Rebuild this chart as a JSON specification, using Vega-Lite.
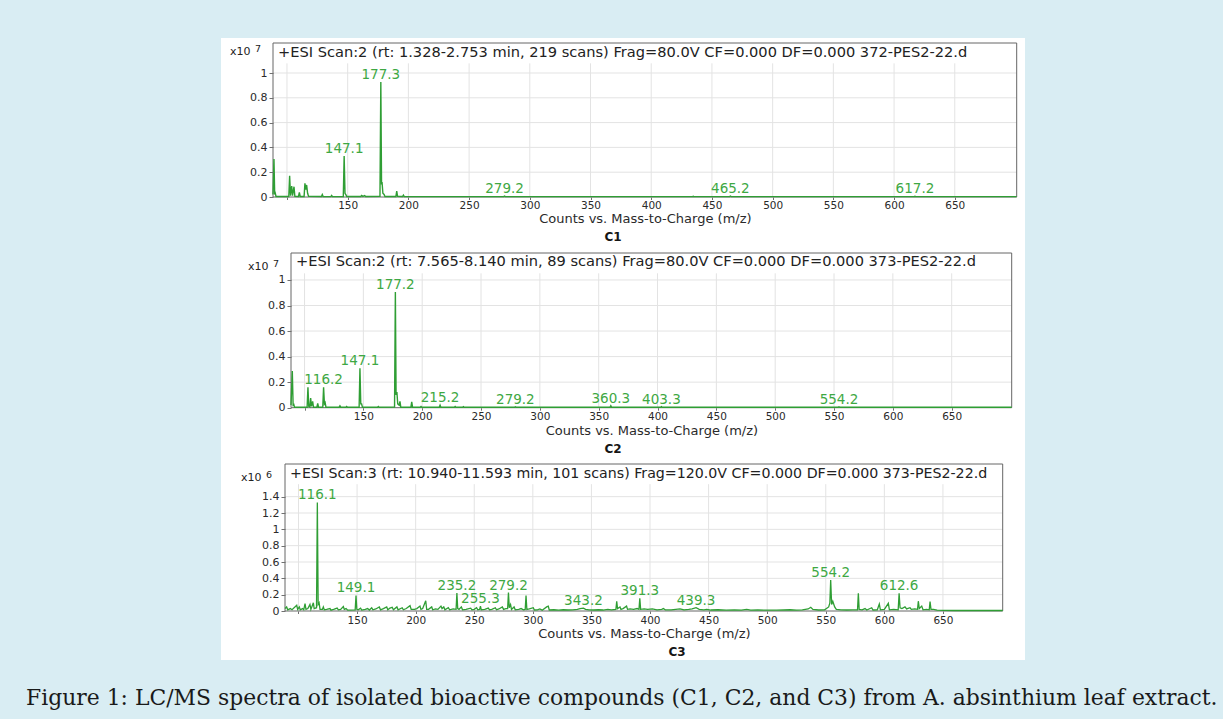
{
  "$schema": "https://vega.github.io/schema/vega-lite/v6.json",
  "width": 804,
  "height": 622,
  "autosize": {"type": "none"},
  "padding": {"left": 221, "top": 38, "right": 198, "bottom": 59},
  "background": "#d9edf3",
  "view": {"fill": "#ffffff", "stroke": null},
  "config": {"font": "DejaVu Sans", "axis": {"zindex": 1}},
  "title": {
    "text": "Figure 1: LC/MS spectra of isolated bioactive compounds (C1, C2, and C3) from A. absinthium leaf extract.",
    "orient": "bottom", "anchor": "start", "frame": "group", "offset": 45, "dx": -195,
    "font": "DejaVu Serif", "fontSize": 21.9, "fontWeight": "normal", "color": "#1a1a1a", "baseline": "alphabetic"
  },
  "datasets": {
    "gx": [{"g":100},{"g":150},{"g":200},{"g":250},{"g":300},{"g":350},{"g":400},{"g":450},{"g":500},{"g":550},{"g":600},{"g":650}],
    "gy12": [{"g":0.2},{"g":0.4},{"g":0.6},{"g":0.8},{"g":1}],
    "gy3": [{"g":0.2},{"g":0.4},{"g":0.6},{"g":0.8},{"g":1},{"g":1.2},{"g":1.4}],
    "s1": [
      {"m":88.5,"i":0.02},{"m":89.3,"i":0.306},{"m":89.9,"i":0.02},{"m":90.4,"i":0.03},{"m":91.0,"i":0.004},
      {"m":101.5,"i":0.004},{"m":102.2,"i":0.172},{"m":102.9,"i":0.01},{"m":103.9,"i":0.089},{"m":104.6,"i":0.01},{"m":105.8,"i":0.083},{"m":106.5,"i":0.005},
      {"m":109.5,"i":0.004},{"m":110.2,"i":0.038},{"m":110.9,"i":0.004},
      {"m":114.1,"i":0.004},{"m":114.8,"i":0.11},{"m":115.5,"i":0.06},{"m":116.2,"i":0.097},{"m":117.0,"i":0.03},{"m":117.8,"i":0.005},
      {"m":128.4,"i":0.004},{"m":129.1,"i":0.02},{"m":129.8,"i":0.004},
      {"m":136.1,"i":0.003},{"m":136.8,"i":0.012},{"m":137.5,"i":0.003},
      {"m":146.4,"i":0.004},{"m":147.1,"i":0.33},{"m":147.8,"i":0.03},{"m":148.5,"i":0.02},{"m":149.2,"i":0.004},
      {"m":160.8,"i":0.004},{"m":161.5,"i":0.012},{"m":162.5,"i":0.005},{"m":164.0,"i":0.012},{"m":164.8,"i":0.004},
      {"m":176.6,"i":0.005},{"m":177.3,"i":0.927},{"m":177.9,"i":0.1},{"m":178.3,"i":0.12},{"m":179.0,"i":0.03},{"m":180.0,"i":0.02},{"m":180.7,"i":0.004},
      {"m":189.7,"i":0.004},{"m":190.4,"i":0.048},{"m":191.1,"i":0.005},
      {"m":195.2,"i":0.004},{"m":195.9,"i":0.015},{"m":196.6,"i":0.003},
      {"m":278.5,"i":0.003},{"m":279.2,"i":0.007},{"m":279.9,"i":0.003},
      {"m":434.0,"i":0.003},{"m":434.6,"i":0.006},{"m":435.2,"i":0.003},
      {"m":464.5,"i":0.003},{"m":465.2,"i":0.007},{"m":465.9,"i":0.003},
      {"m":616.5,"i":0.003},{"m":617.2,"i":0.006},{"m":617.9,"i":0.003},
      {"m":701,"i":0.003}
    ],
    "l1": [
      {"m":177.3,"i":0.927,"t":"177.3"},{"m":147.1,"i":0.33,"t":"147.1"},{"m":279.2,"i":0.007,"t":"279.2"},
      {"m":465.2,"i":0.007,"t":"465.2"},{"m":617.2,"i":0.006,"t":"617.2"}
    ],
    "s2": [
      {"m":88.5,"i":0.02},{"m":89.6,"i":0.287},{"m":90.3,"i":0.02},{"m":90.9,"i":0.025},{"m":91.5,"i":0.004},
      {"m":102.2,"i":0.004},{"m":102.9,"i":0.16},{"m":103.6,"i":0.01},{"m":104.5,"i":0.005},{"m":105.2,"i":0.076},{"m":105.9,"i":0.01},{"m":106.9,"i":0.05},{"m":107.6,"i":0.004},
      {"m":110.5,"i":0.004},{"m":111.2,"i":0.034},{"m":111.9,"i":0.004},
      {"m":115.5,"i":0.004},{"m":116.2,"i":0.16},{"m":116.9,"i":0.03},{"m":117.5,"i":0.04},{"m":118.2,"i":0.004},
      {"m":129.4,"i":0.004},{"m":130.1,"i":0.015},{"m":130.8,"i":0.004},
      {"m":135.1,"i":0.004},{"m":135.8,"i":0.01},{"m":136.5,"i":0.004},
      {"m":146.4,"i":0.004},{"m":147.1,"i":0.308},{"m":147.8,"i":0.03},{"m":148.5,"i":0.03},{"m":149.2,"i":0.004},
      {"m":162.0,"i":0.004},{"m":162.7,"i":0.01},{"m":163.4,"i":0.004},
      {"m":176.5,"i":0.005},{"m":177.2,"i":0.906},{"m":177.8,"i":0.1},{"m":178.5,"i":0.123},{"m":179.2,"i":0.03},{"m":180.4,"i":0.02},{"m":181.1,"i":0.05},{"m":181.8,"i":0.004},
      {"m":190.4,"i":0.004},{"m":191.1,"i":0.045},{"m":191.8,"i":0.004},
      {"m":198.3,"i":0.004},{"m":199.0,"i":0.01},{"m":199.7,"i":0.004},
      {"m":214.5,"i":0.004},{"m":215.2,"i":0.02},{"m":215.9,"i":0.004},
      {"m":227.3,"i":0.004},{"m":228.0,"i":0.01},{"m":228.7,"i":0.004},
      {"m":234.3,"i":0.003},{"m":235.0,"i":0.008},{"m":235.7,"i":0.003},
      {"m":278.5,"i":0.003},{"m":279.2,"i":0.007},{"m":279.9,"i":0.003},
      {"m":359.6,"i":0.003},{"m":360.3,"i":0.015},{"m":361.0,"i":0.003},
      {"m":402.6,"i":0.003},{"m":403.3,"i":0.008},{"m":404.0,"i":0.003},
      {"m":553.5,"i":0.003},{"m":554.2,"i":0.007},{"m":554.9,"i":0.003},
      {"m":701,"i":0.003}
    ],
    "l2": [
      {"m":177.2,"i":0.906,"t":"177.2"},{"m":147.1,"i":0.308,"t":"147.1"},{"m":116.2,"i":0.16,"t":"116.2"},
      {"m":215.2,"i":0.02,"t":"215.2"},{"m":279.2,"i":0.007,"t":"279.2"},{"m":360.3,"i":0.015,"t":"360.3"},
      {"m":403.3,"i":0.008,"t":"403.3"},{"m":554.2,"i":0.007,"t":"554.2"}
    ],
    "s3": [
      {"m":88.5,"i":0.03},{"m":89.9,"i":0.05},{"m":90.8,"i":0.015},{"m":93,"i":0.03},{"m":94.5,"i":0.015},
      {"m":98.5,"i":0.07},{"m":99.3,"i":0.02},{"m":100.7,"i":0.05},{"m":101.5,"i":0.015},{"m":103.5,"i":0.03},{"m":104.5,"i":0.015},
      {"m":105.6,"i":0.09},{"m":106.4,"i":0.02},{"m":108,"i":0.03},{"m":109.8,"i":0.08},{"m":110.6,"i":0.02},
      {"m":112.7,"i":0.1},{"m":113.4,"i":0.03},{"m":115.4,"i":0.04},{"m":116.1,"i":1.33},{"m":116.8,"i":0.08},{"m":117.6,"i":0.1},{"m":118.4,"i":0.02},
      {"m":120.4,"i":0.02},{"m":121.2,"i":0.05},{"m":122,"i":0.015},{"m":124,"i":0.02},{"m":126.9,"i":0.03},{"m":127.7,"i":0.01},
      {"m":130,"i":0.02},{"m":133,"i":0.035},{"m":134,"i":0.015},{"m":136,"i":0.02},{"m":138.3,"i":0.055},{"m":139.1,"i":0.02},
      {"m":140.6,"i":0.03},{"m":142,"i":0.01},{"m":148.4,"i":0.015},{"m":149.1,"i":0.19},{"m":149.8,"i":0.02},{"m":151,"i":0.015},
      {"m":153,"i":0.035},{"m":154,"i":0.012},{"m":157,"i":0.02},{"m":159,"i":0.03},{"m":160.5,"i":0.012},{"m":162.5,"i":0.04},
      {"m":163.5,"i":0.015},{"m":166,"i":0.025},{"m":169,"i":0.05},{"m":170,"i":0.015},{"m":172.5,"i":0.03},{"m":175.3,"i":0.05},
      {"m":176.2,"i":0.015},{"m":178,"i":0.035},{"m":180,"i":0.045},{"m":181,"i":0.015},{"m":184,"i":0.05},{"m":185,"i":0.015},
      {"m":188.5,"i":0.04},{"m":189.5,"i":0.015},{"m":192,"i":0.03},{"m":195.2,"i":0.065},{"m":196.2,"i":0.02},{"m":199,"i":0.02},
      {"m":201,"i":0.03},{"m":203.7,"i":0.06},{"m":204.5,"i":0.02},{"m":206,"i":0.03},{"m":208.6,"i":0.125},{"m":209.4,"i":0.02},
      {"m":211,"i":0.02},{"m":213.7,"i":0.05},{"m":214.5,"i":0.015},{"m":217,"i":0.025},{"m":219,"i":0.02},{"m":221.6,"i":0.06},
      {"m":222.5,"i":0.03},{"m":224,"i":0.05},{"m":225,"i":0.015},{"m":227.9,"i":0.04},{"m":229,"i":0.015},{"m":232,"i":0.025},
      {"m":234.5,"i":0.02},{"m":235.2,"i":0.22},{"m":235.9,"i":0.03},{"m":237,"i":0.02},{"m":239,"i":0.05},{"m":240,"i":0.015},
      {"m":243,"i":0.02},{"m":247,"i":0.035},{"m":248,"i":0.015},{"m":250,"i":0.02},{"m":252,"i":0.04},{"m":253,"i":0.015},
      {"m":254.6,"i":0.02},{"m":255.3,"i":0.06},{"m":256,"i":0.015},{"m":259,"i":0.02},{"m":262,"i":0.035},{"m":263,"i":0.015},
      {"m":265,"i":0.02},{"m":268,"i":0.04},{"m":269,"i":0.015},{"m":271,"i":0.025},{"m":274,"i":0.05},{"m":275,"i":0.02},
      {"m":277,"i":0.03},{"m":278.5,"i":0.03},{"m":279.2,"i":0.225},{"m":279.9,"i":0.04},{"m":281,"i":0.08},{"m":281.8,"i":0.02},
      {"m":284,"i":0.05},{"m":285,"i":0.015},{"m":288,"i":0.02},{"m":290,"i":0.03},{"m":292,"i":0.015},{"m":293.5,"i":0.02},
      {"m":294.2,"i":0.19},{"m":294.9,"i":0.02},{"m":297,"i":0.025},{"m":300.4,"i":0.04},{"m":301.3,"i":0.012},{"m":304,"i":0.015},
      {"m":306,"i":0.025},{"m":308,"i":0.01},{"m":311.8,"i":0.05},{"m":313.2,"i":0.06},{"m":314,"i":0.012},{"m":318,"i":0.015},
      {"m":322,"i":0.01},{"m":326,"i":0.015},{"m":330,"i":0.012},{"m":334,"i":0.015},{"m":338,"i":0.02},{"m":340.3,"i":0.03},
      {"m":343.2,"i":0.035},{"m":345,"i":0.02},{"m":348,"i":0.015},{"m":352,"i":0.012},{"m":356,"i":0.015},{"m":360,"i":0.012},
      {"m":364,"i":0.02},{"m":367,"i":0.015},{"m":370.9,"i":0.02},{"m":371.6,"i":0.12},{"m":372.3,"i":0.03},{"m":374.4,"i":0.05},
      {"m":375.2,"i":0.02},{"m":377,"i":0.03},{"m":380,"i":0.06},{"m":380.8,"i":0.02},{"m":383,"i":0.025},{"m":386,"i":0.02},
      {"m":389,"i":0.03},{"m":390.6,"i":0.02},{"m":391.3,"i":0.155},{"m":392,"i":0.02},{"m":395,"i":0.025},{"m":398,"i":0.02},
      {"m":402,"i":0.025},{"m":406,"i":0.015},{"m":410,"i":0.02},{"m":411.4,"i":0.03},{"m":413,"i":0.015},{"m":418,"i":0.015},
      {"m":422,"i":0.02},{"m":425.6,"i":0.025},{"m":429,"i":0.015},{"m":433,"i":0.02},{"m":436,"i":0.025},{"m":439.3,"i":0.04},
      {"m":442,"i":0.02},{"m":446,"i":0.015},{"m":448.4,"i":0.02},{"m":452,"i":0.012},{"m":458,"i":0.015},{"m":465,"i":0.01},
      {"m":472,"i":0.012},{"m":478,"i":0.01},{"m":482.5,"i":0.02},{"m":486,"i":0.01},{"m":492,"i":0.012},{"m":500,"i":0.01},
      {"m":508,"i":0.01},{"m":514,"i":0.012},{"m":519.5,"i":0.015},{"m":525,"i":0.01},{"m":530,"i":0.015},{"m":535,"i":0.025},
      {"m":537.2,"i":0.045},{"m":539,"i":0.02},{"m":544,"i":0.012},{"m":549,"i":0.015},{"m":552.5,"i":0.05},{"m":553.5,"i":0.1},
      {"m":554.2,"i":0.38},{"m":555,"i":0.08},{"m":556,"i":0.12},{"m":557.6,"i":0.05},{"m":559,"i":0.02},{"m":563,"i":0.015},
      {"m":568,"i":0.012},{"m":573,"i":0.015},{"m":577.1,"i":0.015},{"m":577.8,"i":0.216},{"m":578.5,"i":0.02},{"m":581,"i":0.015},
      {"m":583.5,"i":0.03},{"m":585,"i":0.012},{"m":589.2,"i":0.04},{"m":590.3,"i":0.012},{"m":594,"i":0.015},{"m":595.7,"i":0.086},
      {"m":596.6,"i":0.015},{"m":600,"i":0.02},{"m":603.4,"i":0.094},{"m":604.3,"i":0.015},{"m":608,"i":0.02},{"m":611.8,"i":0.015},
      {"m":612.6,"i":0.216},{"m":613.4,"i":0.04},{"m":615,"i":0.03},{"m":617.6,"i":0.05},{"m":619,"i":0.025},{"m":621.9,"i":0.04},
      {"m":623,"i":0.02},{"m":626,"i":0.025},{"m":628.3,"i":0.02},{"m":629,"i":0.12},{"m":629.8,"i":0.03},{"m":631.9,"i":0.06},
      {"m":633,"i":0.015},{"m":636,"i":0.02},{"m":638.3,"i":0.015},{"m":639,"i":0.114},{"m":639.8,"i":0.02},{"m":642,"i":0.02},
      {"m":645,"i":0.01},{"m":650,"i":0.008},{"m":660,"i":0.006},{"m":680,"i":0.006},{"m":701,"i":0.006}
    ],
    "l3": [
      {"m":116.1,"i":1.33,"t":"116.1"},{"m":149.1,"i":0.19,"t":"149.1"},{"m":235.2,"i":0.22,"t":"235.2"},
      {"m":255.3,"i":0.06,"t":"255.3"},{"m":279.2,"i":0.225,"t":"279.2"},{"m":343.2,"i":0.035,"t":"343.2"},
      {"m":391.3,"i":0.155,"t":"391.3"},{"m":439.3,"i":0.04,"t":"439.3"},{"m":554.2,"i":0.38,"t":"554.2"},
      {"m":612.6,"i":0.216,"t":"612.6"}
    ]
  },
  "resolve": {"scale": {"x": "independent", "y": "independent"}, "axis": {"x": "independent", "y": "independent"}},
  "layer": [
    {
      "layer": [
        {"data": {"name": "gx"}, "mark": {"type": "rule", "color": "#e3e3e3", "strokeWidth": 1},
         "encoding": {"x": {"field": "g", "type": "quantitative"}, "y": {"datum": 0}, "y2": {"datum": 1.078}}},
        {"data": {"name": "gy12"}, "mark": {"type": "rule", "color": "#e3e3e3", "strokeWidth": 1},
         "encoding": {"y": {"field": "g", "type": "quantitative"}, "x": {"datum": 88.5}, "x2": {"datum": 701}}},
        {"data": {"values": [{}]}, "mark": {"type": "rect", "filled": false, "color": "#666666", "strokeWidth": 1},
         "encoding": {"x": {"datum": 88.5}, "x2": {"datum": 701}, "y": {"datum": 0}, "y2": {"datum": 1.242}}},
        {"data": {"name": "s1"}, "mark": {"type": "line", "color": "#2f9e34", "strokeWidth": 1.4},
         "encoding": {
           "x": {"field": "m", "type": "quantitative",
                 "scale": {"domain": [88.5, 701], "range": [52, 795.7], "nice": false, "zero": false},
                 "axis": {"orient": "bottom", "offset": -463, "zindex": 1, "values": [100,150,200,250,300,350,400,450,500,550,600,650], "format": "d",
                          "labelExpr": "datum.value == 100 ? '' : datum.label", "grid": false, "domain": false,
                          "tickSize": 2.5, "tickColor": "#707070", "labelPadding": 0.5, "labelFont": "DejaVu Sans", "labelFontSize": 10.5,
                          "labelColor": "#2a2a2a", "labelFlush": false, "labelOverlap": false,
                          "title": "Counts vs. Mass-to-Charge (m/z)", "titleFont": "DejaVu Sans", "titleFontSize": 13,
                          "titleFontWeight": "normal", "titleColor": "#2a2a2a", "titleBaseline": "alphabetic", "titleY": 25.5}},
           "y": {"field": "i", "type": "quantitative",
                 "scale": {"domain": [0, 1.242], "range": [159, 5], "nice": false, "zero": false},
                 "axis": {"orient": "left", "offset": -52, "zindex": 1, "values": [0,0.2,0.4,0.6,0.8,1], "format": "~g", "grid": false, "domain": false,
                          "tickSize": 4, "tickColor": "#707070", "labelPadding": 2, "labelFont": "DejaVu Sans", "labelFontSize": 11,
                          "labelColor": "#2a2a2a", "labelFlush": false, "labelOverlap": false, "title": null}}
         }},
        {"data": {"name": "l1"}, "mark": {"type": "text", "color": "#3ea843", "font": "DejaVu Sans", "fontSize": 13.5, "baseline": "alphabetic", "dy": -3},
         "encoding": {"x": {"field": "m", "type": "quantitative"}, "y": {"field": "i", "type": "quantitative"}, "text": {"field": "t"}}},
        {"data": {"values": [{}]}, "mark": {"type": "text", "align": "left", "baseline": "middle", "dx": 5, "dy": 10, "font": "DejaVu Sans", "fontSize": 14.6, "color": "#222222"},
         "encoding": {"x": {"datum": 88.5}, "y": {"datum": 1.242},
                      "text": {"value": "+ESI Scan:2 (rt: 1.328-2.753 min, 219 scans) Frag=80.0V CF=0.000 DF=0.000 372-PES2-22.d"}}},
        {"data": {"values": [{}]}, "mark": {"type": "text", "align": "left", "baseline": "middle", "dx": -43, "dy": 9, "font": "DejaVu Sans", "fontSize": 11, "color": "#222222"},
         "encoding": {"x": {"datum": 88.5}, "y": {"datum": 1.242}, "text": {"value": "x10"}}},
        {"data": {"values": [{}]}, "mark": {"type": "text", "align": "left", "baseline": "middle", "dx": -18, "dy": 6, "font": "DejaVu Sans", "fontSize": 9.5, "color": "#222222"},
         "encoding": {"x": {"datum": 88.5}, "y": {"datum": 1.242}, "text": {"value": "7"}}},
        {"data": {"values": [{}]}, "mark": {"type": "text", "align": "center", "baseline": "middle", "font": "DejaVu Sans", "fontSize": 12, "fontWeight": "bold", "color": "#151515"},
         "encoding": {"x": {"datum": 368.5}, "y": {"datum": -0.32}, "text": {"value": "C1"}}}
      ]
    },
    {
      "layer": [
        {"data": {"name": "gx"}, "mark": {"type": "rule", "color": "#e3e3e3", "strokeWidth": 1},
         "encoding": {"x": {"field": "g", "type": "quantitative"}, "y": {"datum": 0}, "y2": {"datum": 1.052}}},
        {"data": {"name": "gy12"}, "mark": {"type": "rule", "color": "#e3e3e3", "strokeWidth": 1},
         "encoding": {"y": {"field": "g", "type": "quantitative"}, "x": {"datum": 88.5}, "x2": {"datum": 701}}},
        {"data": {"values": [{}]}, "mark": {"type": "rect", "filled": false, "color": "#666666", "strokeWidth": 1},
         "encoding": {"x": {"datum": 88.5}, "x2": {"datum": 701}, "y": {"datum": 0}, "y2": {"datum": 1.211}}},
        {"data": {"name": "s2"}, "mark": {"type": "line", "color": "#2f9e34", "strokeWidth": 1.4},
         "encoding": {
           "x": {"field": "m", "type": "quantitative",
                 "scale": {"domain": [88.5, 701], "range": [70, 790.7], "nice": false, "zero": false},
                 "axis": {"orient": "bottom", "offset": -252.3, "zindex": 1, "values": [100,150,200,250,300,350,400,450,500,550,600,650], "format": "d",
                          "labelExpr": "datum.value == 100 ? '' : datum.label", "grid": false, "domain": false,
                          "tickSize": 2.5, "tickColor": "#707070", "labelPadding": 1.5, "labelFont": "DejaVu Sans", "labelFontSize": 10.5,
                          "labelColor": "#2a2a2a", "labelFlush": false, "labelOverlap": false,
                          "title": "Counts vs. Mass-to-Charge (m/z)", "titleFont": "DejaVu Sans", "titleFontSize": 13,
                          "titleFontWeight": "normal", "titleColor": "#2a2a2a", "titleBaseline": "alphabetic", "titleY": 26.5}},
           "y": {"field": "i", "type": "quantitative",
                 "scale": {"domain": [0, 1.211], "range": [369.7, 215], "nice": false, "zero": false},
                 "axis": {"orient": "left", "offset": -70, "zindex": 1, "values": [0,0.2,0.4,0.6,0.8,1], "format": "~g", "grid": false, "domain": false,
                          "tickSize": 4, "tickColor": "#707070", "labelPadding": 2, "labelFont": "DejaVu Sans", "labelFontSize": 11,
                          "labelColor": "#2a2a2a", "labelFlush": false, "labelOverlap": false, "title": null}}
         }},
        {"data": {"name": "l2"}, "mark": {"type": "text", "color": "#3ea843", "font": "DejaVu Sans", "fontSize": 13.5, "baseline": "alphabetic", "dy": -3},
         "encoding": {"x": {"field": "m", "type": "quantitative"}, "y": {"field": "i", "type": "quantitative"}, "text": {"field": "t"}}},
        {"data": {"values": [{}]}, "mark": {"type": "text", "align": "left", "baseline": "middle", "dx": 5, "dy": 9.3, "font": "DejaVu Sans", "fontSize": 14.6, "color": "#222222"},
         "encoding": {"x": {"datum": 88.5}, "y": {"datum": 1.211},
                      "text": {"value": "+ESI Scan:2 (rt: 7.565-8.140 min, 89 scans) Frag=80.0V CF=0.000 DF=0.000 373-PES2-22.d"}}},
        {"data": {"values": [{}]}, "mark": {"type": "text", "align": "left", "baseline": "middle", "dx": -43, "dy": 14, "font": "DejaVu Sans", "fontSize": 11, "color": "#222222"},
         "encoding": {"x": {"datum": 88.5}, "y": {"datum": 1.211}, "text": {"value": "x10"}}},
        {"data": {"values": [{}]}, "mark": {"type": "text", "align": "left", "baseline": "middle", "dx": -18, "dy": 11, "font": "DejaVu Sans", "fontSize": 9.5, "color": "#222222"},
         "encoding": {"x": {"datum": 88.5}, "y": {"datum": 1.211}, "text": {"value": "7"}}},
        {"data": {"values": [{}]}, "mark": {"type": "text", "align": "center", "baseline": "middle", "font": "DejaVu Sans", "fontSize": 12, "fontWeight": "bold", "color": "#151515"},
         "encoding": {"x": {"datum": 362.2}, "y": {"datum": -0.323}, "text": {"value": "C2"}}}
      ]
    },
    {
      "layer": [
        {"data": {"name": "gx"}, "mark": {"type": "rule", "color": "#e3e3e3", "strokeWidth": 1},
         "encoding": {"x": {"field": "g", "type": "quantitative"}, "y": {"datum": 0}, "y2": {"datum": 1.553}}},
        {"data": {"name": "gy3"}, "mark": {"type": "rule", "color": "#e3e3e3", "strokeWidth": 1},
         "encoding": {"y": {"field": "g", "type": "quantitative"}, "x": {"datum": 88.5}, "x2": {"datum": 701}}},
        {"data": {"values": [{}]}, "mark": {"type": "rect", "filled": false, "color": "#666666", "strokeWidth": 1},
         "encoding": {"x": {"datum": 88.5}, "x2": {"datum": 701}, "y": {"datum": 0}, "y2": {"datum": 1.8}}},
        {"data": {"name": "s3"}, "mark": {"type": "line", "color": "#2f9e34", "strokeWidth": 1.3},
         "encoding": {
           "x": {"field": "m", "type": "quantitative",
                 "scale": {"domain": [88.5, 701], "range": [64, 781.7], "nice": false, "zero": false},
                 "axis": {"orient": "bottom", "offset": -49, "zindex": 1, "values": [100,150,200,250,300,350,400,450,500,550,600,650], "format": "d",
                          "labelExpr": "datum.value == 100 ? '' : datum.label", "grid": false, "domain": false,
                          "tickSize": 2.5, "tickColor": "#707070", "labelPadding": 1.5, "labelFont": "DejaVu Sans", "labelFontSize": 10.5,
                          "labelColor": "#2a2a2a", "labelFlush": false, "labelOverlap": false,
                          "title": "Counts vs. Mass-to-Charge (m/z)", "titleFont": "DejaVu Sans", "titleFontSize": 13,
                          "titleFontWeight": "normal", "titleColor": "#2a2a2a", "titleBaseline": "alphabetic", "titleY": 26.5}},
           "y": {"field": "i", "type": "quantitative",
                 "scale": {"domain": [0, 1.8], "range": [573, 426], "nice": false, "zero": false},
                 "axis": {"orient": "left", "offset": -64, "zindex": 1, "values": [0,0.2,0.4,0.6,0.8,1,1.2,1.4], "format": "~g", "grid": false, "domain": false,
                          "tickSize": 4, "tickColor": "#707070", "labelPadding": 2, "labelFont": "DejaVu Sans", "labelFontSize": 11,
                          "labelColor": "#2a2a2a", "labelFlush": false, "labelOverlap": false, "title": null}}
         }},
        {"data": {"name": "l3"}, "mark": {"type": "text", "color": "#3ea843", "font": "DejaVu Sans", "fontSize": 13.5, "baseline": "alphabetic", "dy": -3},
         "encoding": {"x": {"field": "m", "type": "quantitative"}, "y": {"field": "i", "type": "quantitative"}, "text": {"field": "t"}}},
        {"data": {"values": [{}]}, "mark": {"type": "text", "align": "left", "baseline": "middle", "dx": 5, "dy": 10, "font": "DejaVu Sans", "fontSize": 14.2, "color": "#222222"},
         "encoding": {"x": {"datum": 88.5}, "y": {"datum": 1.8},
                      "text": {"value": "+ESI Scan:3 (rt: 10.940-11.593 min, 101 scans) Frag=120.0V CF=0.000 DF=0.000 373-PES2-22.d"}}},
        {"data": {"values": [{}]}, "mark": {"type": "text", "align": "left", "baseline": "middle", "dx": -44, "dy": 14, "font": "DejaVu Sans", "fontSize": 11, "color": "#222222"},
         "encoding": {"x": {"datum": 88.5}, "y": {"datum": 1.8}, "text": {"value": "x10"}}},
        {"data": {"values": [{}]}, "mark": {"type": "text", "align": "left", "baseline": "middle", "dx": -19, "dy": 11, "font": "DejaVu Sans", "fontSize": 9.5, "color": "#222222"},
         "encoding": {"x": {"datum": 88.5}, "y": {"datum": 1.8}, "text": {"value": "6"}}},
        {"data": {"values": [{}]}, "mark": {"type": "text", "align": "center", "baseline": "middle", "font": "DejaVu Sans", "fontSize": 12, "fontWeight": "bold", "color": "#151515"},
         "encoding": {"x": {"datum": 423.1}, "y": {"datum": -0.498}, "text": {"value": "C3"}}}
      ]
    }
  ]
}
